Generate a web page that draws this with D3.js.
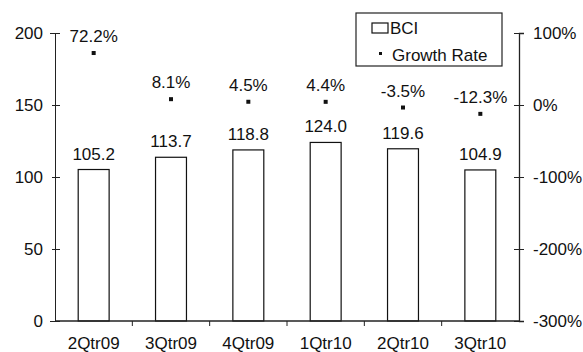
<!DOCTYPE html>
<html>
<head>
<meta charset="utf-8">
<script src="https://cdn.jsdelivr.net/npm/d3@7/dist/d3.min.js"></script>
<style>
  html, body { margin: 0; padding: 0; background: #fff; }
  svg { display: block; font-family: "Liberation Sans", Arial, sans-serif; }
</style>
</head>
<body>
<svg id="chart" width="583" height="352"></svg>
<script>
// Quarterly BCI index with quarter-on-quarter growth rate
const quarters = ["2Qtr09", "3Qtr09", "4Qtr09", "1Qtr10", "2Qtr10", "3Qtr10"];
const bciValues = [105.2, 113.7, 118.8, 124.0, 119.6, 104.9];
const growthRates = [72.2, 8.1, 4.5, 4.4, -3.5, -12.3];
const leftTicks = [0, 50, 100, 150, 200];
const rightTicks = [-300, -200, -100, 0, 100];

const svg = d3.select("#chart");
const plot = { left: 55, right: 519, top: 33, bottom: 321 };
const fontSize = 17;

const x = d3.scaleBand()
  .domain(quarters)
  .range([plot.left, plot.right])
  .paddingInner(0.6)
  .paddingOuter(0.3);

const yLeft = d3.scaleLinear().domain([0, 200]).range([plot.bottom, plot.top]);
const yRight = d3.scaleLinear().domain([-300, 100]).range([plot.bottom, plot.top]);

// Bars
svg.append("g").selectAll("rect")
  .data(bciValues)
  .join("rect")
  .attr("x", (d, i) => x(quarters[i]))
  .attr("y", d => yLeft(d))
  .attr("width", x.bandwidth())
  .attr("height", d => yLeft(0) - yLeft(d))
  .attr("fill", "#fff")
  .attr("stroke", "#111")
  .attr("stroke-width", 1.2);

// Bar value labels
svg.append("g").selectAll("text")
  .data(bciValues)
  .join("text")
  .attr("x", (d, i) => x(quarters[i]) + x.bandwidth() / 2)
  .attr("y", d => yLeft(d) - 10)
  .attr("text-anchor", "middle")
  .attr("font-size", fontSize)
  .attr("fill", "#111")
  .text(d => d.toFixed(1));

// Growth rate markers
const cx = (i) => x(quarters[i]) + x.bandwidth() / 2;
svg.append("g").selectAll("rect")
  .data(growthRates)
  .join("rect")
  .attr("x", (d, i) => cx(i) - 2)
  .attr("y", d => yRight(d) - 2)
  .attr("width", 4)
  .attr("height", 4)
  .attr("fill", "#111");

// Growth rate labels
svg.append("g").selectAll("text")
  .data(growthRates)
  .join("text")
  .attr("x", (d, i) => cx(i))
  .attr("y", d => yRight(d) - 11)
  .attr("text-anchor", "middle")
  .attr("font-size", fontSize)
  .attr("fill", "#111")
  .text(d => d.toFixed(1) + "%");

// Left axis
const leftAxis = d3.axisLeft(yLeft).tickValues(leftTicks).tickSize(5).tickPadding(7);
const gl = svg.append("g").attr("transform", `translate(${plot.left},0)`).call(leftAxis);
gl.select(".domain").attr("stroke", "#222");
gl.selectAll(".tick line").attr("x2", 5).attr("x1", -3).attr("stroke", "#222");
gl.selectAll(".tick text").attr("font-size", fontSize).attr("fill", "#111")
  .attr("font-family", "Liberation Sans, Arial, sans-serif");

// Right axis
const rightAxis = d3.axisRight(yRight).tickValues(rightTicks).tickSize(5).tickPadding(9)
  .tickFormat(d => d + "%");
const gr = svg.append("g").attr("transform", `translate(${plot.right},0)`).call(rightAxis);
gr.select(".domain").attr("stroke", "#222").attr("stroke-width", 1.3);
gr.selectAll(".tick line").attr("x1", -5).attr("x2", 5).attr("stroke", "#222");
gr.selectAll(".tick text").attr("font-size", fontSize).attr("fill", "#111")
  .attr("font-family", "Liberation Sans, Arial, sans-serif");

// Category axis
const gb = svg.append("g").attr("transform", `translate(0,${plot.bottom})`);
gb.append("line")
  .attr("x1", plot.left).attr("x2", plot.right)
  .attr("stroke", "#222").attr("stroke-width", 1.3);
const step = x.step();
gb.selectAll(".sep")
  .data(quarters.slice(1))
  .join("line")
  .attr("class", "sep")
  .attr("x1", d => x(d) - step * x.paddingInner() / 2)
  .attr("x2", d => x(d) - step * x.paddingInner() / 2)
  .attr("y1", 0).attr("y2", 5)
  .attr("stroke", "#222");
gb.selectAll("text")
  .data(quarters)
  .join("text")
  .attr("x", d => x(d) + x.bandwidth() / 2)
  .attr("y", 28)
  .attr("text-anchor", "middle")
  .attr("font-size", fontSize)
  .attr("fill", "#111")
  .text(d => d);

// Legend
const legend = svg.append("g");
legend.append("rect")
  .attr("x", 356).attr("y", 13).attr("width", 146).attr("height", 53)
  .attr("fill", "#fff").attr("stroke", "#222").attr("stroke-width", 1.2);
legend.append("rect")
  .attr("x", 372).attr("y", 23).attr("width", 16).attr("height", 10)
  .attr("fill", "#fff").attr("stroke", "#111").attr("stroke-width", 1.2);
legend.append("text")
  .attr("x", 390).attr("y", 34)
  .attr("font-size", fontSize).attr("fill", "#111")
  .text("BCI");
legend.append("rect")
  .attr("x", 379).attr("y", 52).attr("width", 3).attr("height", 3)
  .attr("fill", "#111");
legend.append("text")
  .attr("x", 392).attr("y", 61)
  .attr("font-size", fontSize).attr("fill", "#111")
  .text("Growth Rate");
</script>
</body>
</html>
